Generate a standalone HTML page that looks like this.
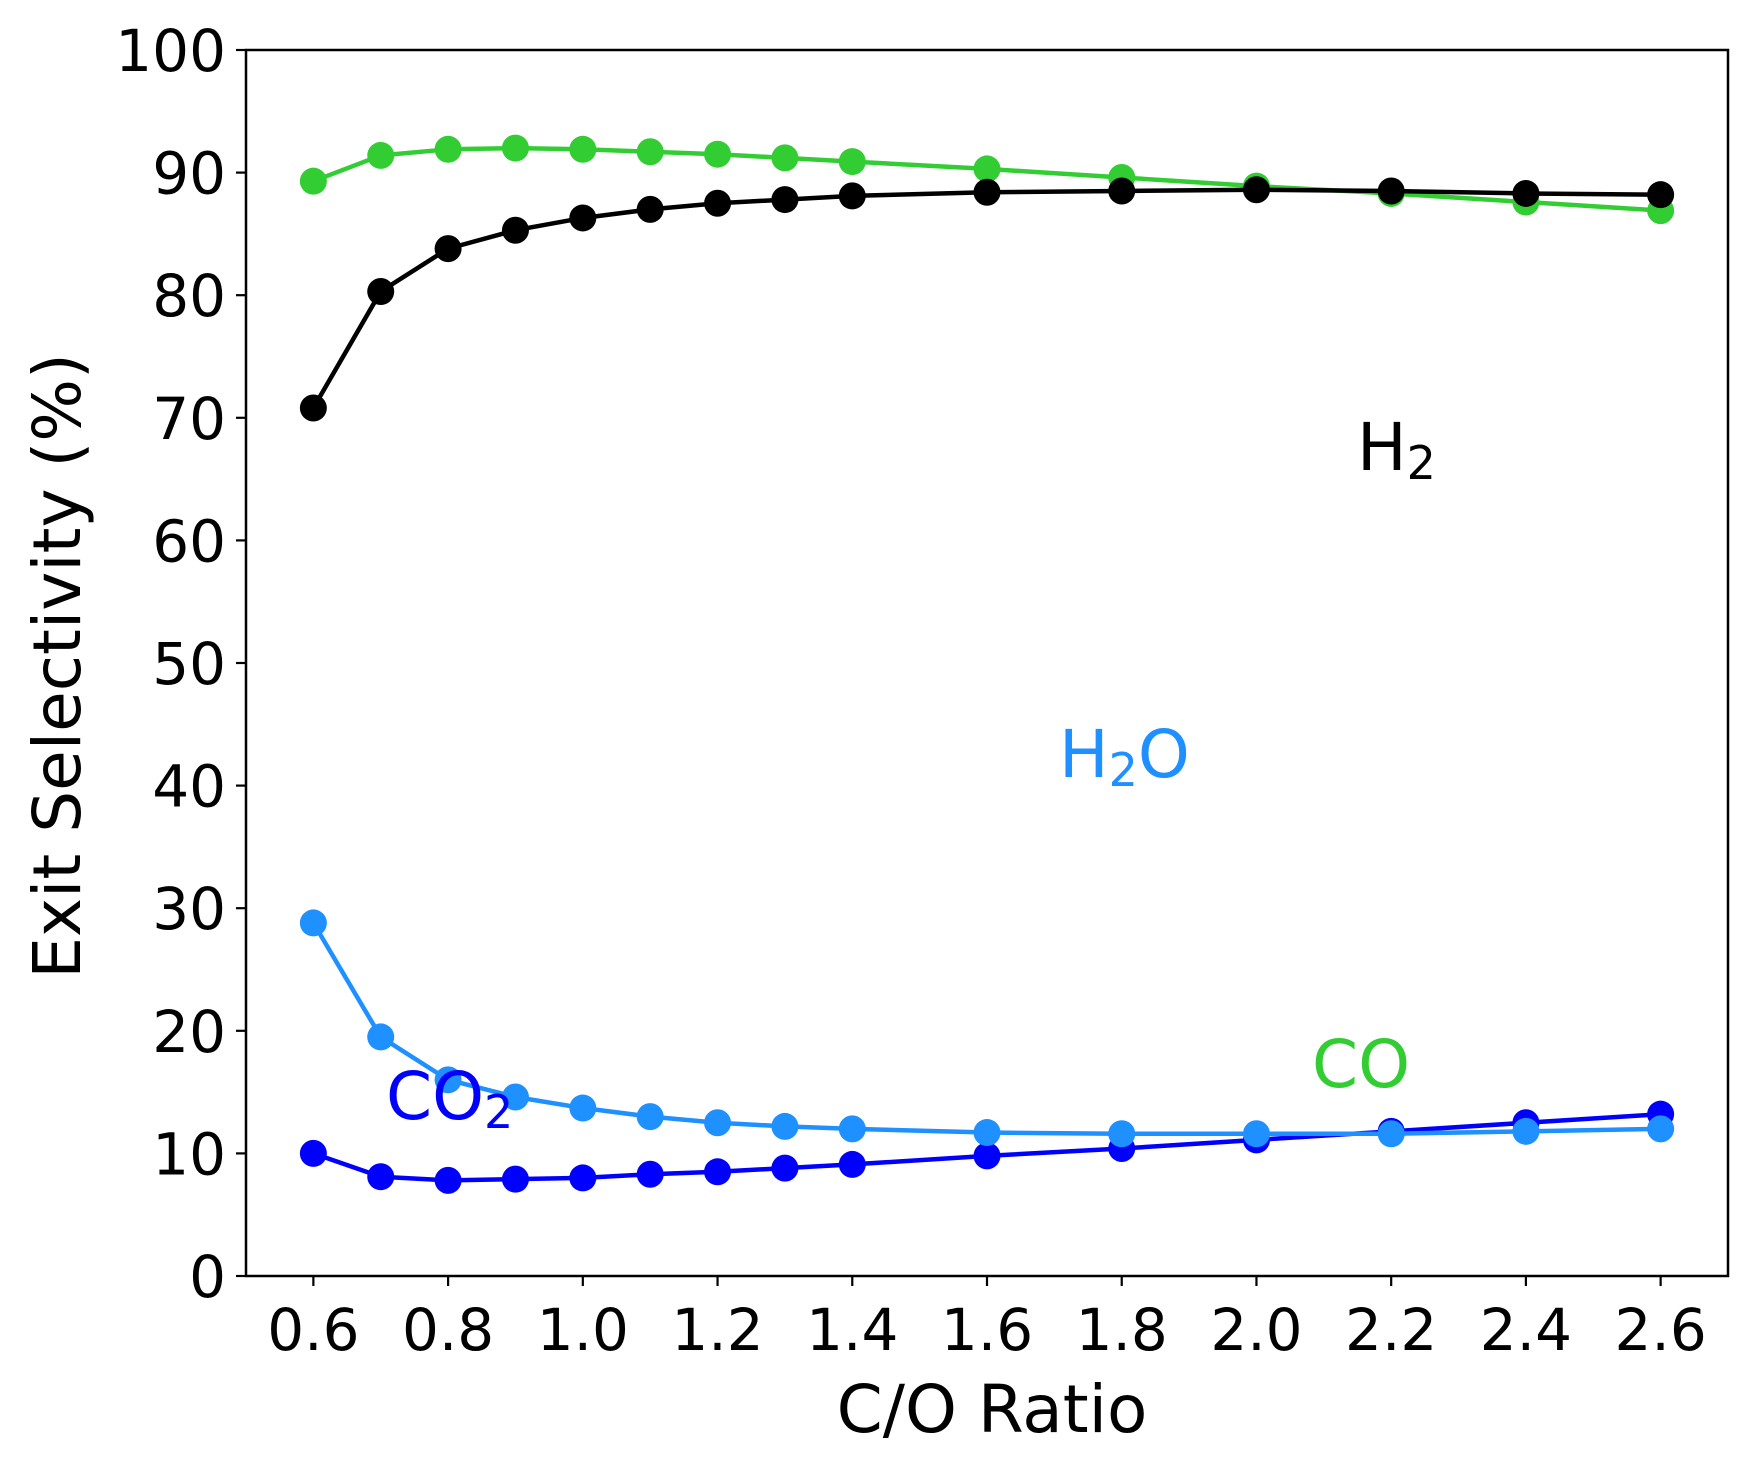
<!DOCTYPE html>
<html><head><meta charset="utf-8"><style>
body{margin:0;background:#fff}
svg text{font-family:"DejaVu Sans","Liberation Sans",sans-serif}
</style></head><body>
<svg id="chart" width="1762" height="1470" viewBox="0 0 1762 1470" xmlns="http://www.w3.org/2000/svg">
<rect width="1762" height="1470" fill="#fff"/>
<g id="marks"></g>
<g id="axes"></g>
</svg>
<script>
const xValues=[0.6,0.7,0.8,0.9,1.0,1.1,1.2,1.3,1.4,1.6,1.8,2.0,2.2,2.4,2.6];
const coValues=[89.3,91.4,91.9,92.0,91.9,91.7,91.5,91.2,90.9,90.3,89.6,88.9,88.3,87.6,86.9];
const h2Values=[70.8,80.3,83.8,85.3,86.3,87.0,87.5,87.8,88.1,88.4,88.5,88.6,88.5,88.3,88.2];
const co2Values=[10.0,8.1,7.8,7.9,8.0,8.3,8.5,8.8,9.1,9.8,10.4,11.1,11.8,12.5,13.2];
const h2oValues=[28.8,19.5,16.0,14.6,13.7,13.0,12.5,12.2,12.0,11.7,11.6,11.6,11.6,11.8,12.0];
const xTicks=[0.6,0.8,1.0,1.2,1.4,1.6,1.8,2.0,2.2,2.4,2.6];
const yTicks=[0,10,20,30,40,50,60,70,80,90,100];

const L=246,R=1728,T=50,B=1276,X0=0.5,X1=2.7,Y0=0,Y1=100;
const sx=v=>L+(v-X0)/(X1-X0)*(R-L);
const sy=v=>B-(v-Y0)/(Y1-Y0)*(B-T);
const NS="http://www.w3.org/2000/svg";
function mk(tag,attrs,parent){const e=document.createElementNS(NS,tag);for(const k in attrs)e.setAttribute(k,attrs[k]);parent.appendChild(e);return e;}
const marks=document.getElementById('marks'),axes=document.getElementById('axes');

const series=[
 {name:'co',vals:coValues,color:'#32cd32'},
 {name:'h2',vals:h2Values,color:'#000000'},
 {name:'co2',vals:co2Values,color:'#0000ff'},
 {name:'h2o',vals:h2oValues,color:'#1e90ff'}
];
series.forEach(s=>{
 const g=mk('g',{},marks);
 
 
 const pts=s.vals.map((v,i)=>sx(xValues[i])+','+sy(v)).join(' ');
 const pl=mk('polyline',{points:pts,fill:'none',stroke:s.color,'stroke-width':4.5,'stroke-linejoin':'round'},g);
 
 
 s.vals.forEach((v,i)=>{
  const c=mk('circle',{cx:sx(xValues[i]),cy:sy(v),r:13.5,fill:s.color},g);
  
  
 });
});

const frame=mk('rect',{x:L,y:T,width:R-L,height:B-T,fill:'none',stroke:'#000','stroke-width':2.5},axes);


xTicks.forEach(t=>{
 const x=sx(t);
 const tl=mk('line',{x1:x,x2:x,y1:B,y2:B+10,stroke:'#000','stroke-width':2.2},axes);
 
 
 const tx=mk('text',{x:x,y:B+74,'font-size':58,'text-anchor':'middle'},axes);
 tx.textContent=t.toFixed(1);
 
 
});
yTicks.forEach(t=>{
 const y=sy(t);
 const tl=mk('line',{x1:L-10,x2:L,y1:y,y2:y,stroke:'#000','stroke-width':2.2},axes);
 
 
 const tx=mk('text',{x:L-20,y:y+21,'font-size':58,'text-anchor':'end'},axes);
 tx.textContent=String(t);
 
 
});
</script>
<svg style="position:absolute;left:0;top:0" width="1762" height="1470" xmlns="http://www.w3.org/2000/svg">
<text x="992" y="1432" font-size="66" text-anchor="middle">C/O Ratio</text>
<text transform="translate(80,666) rotate(-90)" font-size="66" text-anchor="middle">Exit Selectivity (%)</text>
<text x="1357" y="470" font-size="66" fill="#000">H<tspan font-size="46" dy="9">2</tspan></text>
<text x="1059" y="777" font-size="66" fill="#1e90ff">H<tspan font-size="46" dy="9">2</tspan><tspan dy="-9">O</tspan></text>
<text x="1312" y="1087" font-size="66" fill="#32cd32">CO</text>
<text x="386" y="1119" font-size="66" fill="#0000ff">CO<tspan font-size="46" dy="9">2</tspan></text>
</svg>
</body></html>
